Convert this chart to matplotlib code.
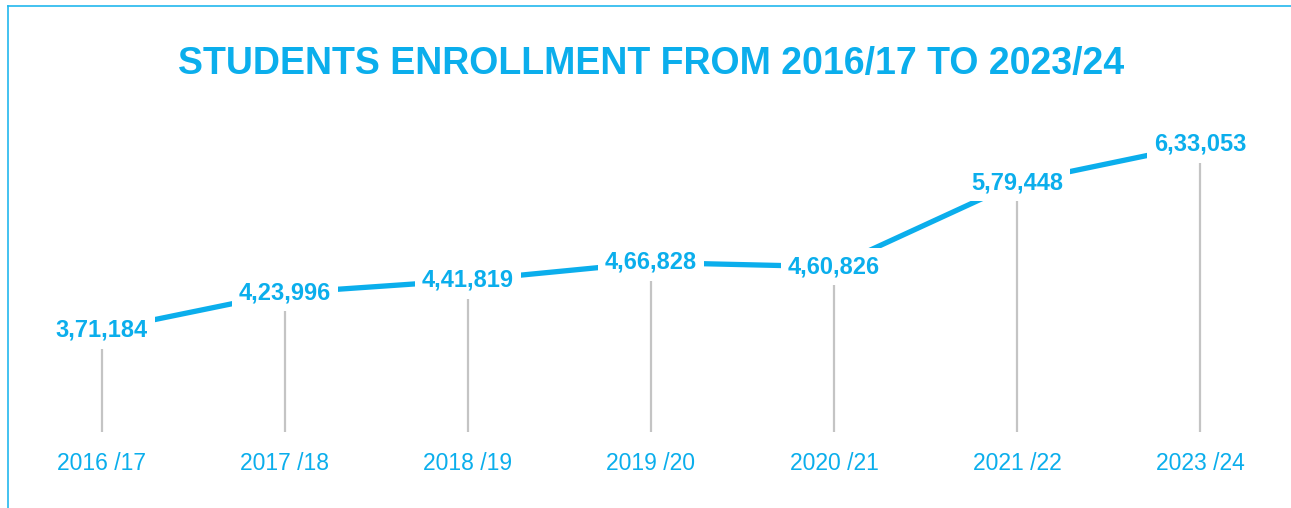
import matplotlib
matplotlib.use('Agg')
import matplotlib.pyplot as plt
from matplotlib.lines import Line2D

# ── Data ─────────────────────────────────────────────────────────
years = ['2016 /17', '2017 /18', '2018 /19', '2019 /20', '2020 /21', '2021 /22', '2023 /24']
enrollment = [371184, 423996, 441819, 466828, 460826, 579448, 633053]
value_labels = ['3,71,184', '4,23,996', '4,41,819', '4,66,828', '4,60,826', '5,79,448', '6,33,053']

BLUE = '#0BAEEC'
GREY = '#C4C4C4'
DROP_BASE = 228000   # where the grey drop lines end

plt.rcParams['font.family'] = ['Liberation Sans', 'DejaVu Sans']

fig = plt.figure(figsize=(12.91, 5.08), dpi=100)
ax = fig.add_axes([0, 0, 1, 1])
ax.set_xlim(-0.557, 6.497)
ax.set_ylim(121000, 836600)
ax.axis('off')

x = list(range(len(years)))

# drop lines from each point
ax.vlines(x, DROP_BASE, enrollment, color=GREY, linewidth=1.6, zorder=1)
# trend line
ax.plot(x, enrollment, color=BLUE, linewidth=3.8, solid_capstyle='butt', zorder=2)

# value labels sitting on the line
for xi, v, lab in zip(x, enrollment, value_labels):
    ax.text(xi, v, lab, ha='center', va='center', fontsize=17, fontweight='bold',
            color=BLUE, zorder=3,
            bbox=dict(facecolor='white', edgecolor='none', pad=5))

# category labels
for xi, yr in zip(x, years):
    ax.text(xi, 1 - 470 / 508, yr, transform=ax.get_xaxis_transform(), ha='center',
            va='baseline', fontsize=16.5, color=BLUE)

fig.text(0.504, 1 - 74 / 508, 'STUDENTS ENROLLMENT FROM 2016/17 TO 2023/24', ha='center',
         va='baseline', fontsize=27, fontweight='bold', color=BLUE)

# frame on the left and top edges
fig.add_artist(Line2D([8 / 1291, 8 / 1291], [0, 1 - 6 / 508], transform=fig.transFigure,
                      color='#22B8EE', linewidth=1.2))
fig.add_artist(Line2D([8 / 1291, 1], [1 - 6 / 508, 1 - 6 / 508], transform=fig.transFigure,
                      color='#22B8EE', linewidth=1.2))

fig.savefig('out.png', dpi=100, facecolor='white')
